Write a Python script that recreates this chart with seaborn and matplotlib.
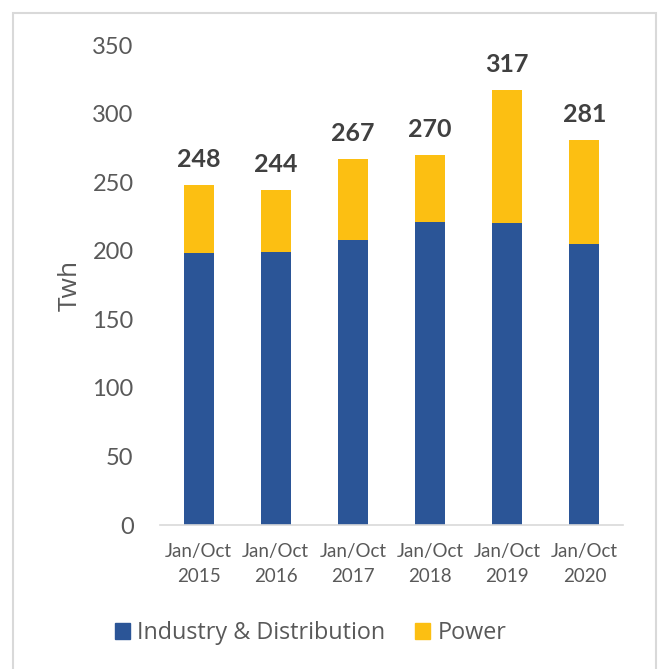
import matplotlib
matplotlib.use("Agg")
import matplotlib.pyplot as plt
import matplotlib.patches as mpatches
import seaborn as sns
import pandas as pd

# data
periods = ["Jan/Oct\n2015", "Jan/Oct\n2016", "Jan/Oct\n2017", "Jan/Oct\n2018", "Jan/Oct\n2019", "Jan/Oct\n2020"]
industry = [198, 199, 208, 221, 220, 205]
totals = [248, 244, 267, 270, 317, 281]
power = [t - i for t, i in zip(totals, industry)]

blue = "#2B5597"
gold = "#FCBF12"
grey = "#595959"

sns.set_theme(style="white")
plt.rcParams["font.family"] = ["Lato", "DejaVu Sans"]

df = pd.DataFrame({"period": periods, "industry": industry, "power": power, "total": totals})

fig = plt.figure(figsize=(6.59, 6.69), dpi=100)
ax = fig.add_axes([160 / 659, 1 - 525 / 669, 463 / 659, 480 / 669])

# stacked look: totals in gold, industry drawn over in blue
sns.barplot(data=df, x="period", y="total", color=gold, width=0.39, saturation=1, linewidth=0, ax=ax)
sns.barplot(data=df, x="period", y="industry", color=blue, width=0.39, saturation=1, linewidth=0, ax=ax)

ax.bar_label(ax.containers[0], labels=[str(t) for t in totals], padding=10,
             fontsize=18, fontweight="bold", color="#404040")

ax.set_ylim(0, 350)
ax.set_xlim(-0.5, 5.5)
ax.set_yticks(range(0, 351, 50))
ax.set_xlabel("")
ax.set_ylabel("Twh", fontsize=19, color=grey, family=["Open Sans", "DejaVu Sans"])
ax.yaxis.set_label_coords(-0.167, 0.5)

ax.tick_params(axis="y", length=0, pad=19, labelsize=17, labelcolor=grey)
ax.tick_params(axis="x", length=0, pad=13, labelsize=13.5, labelcolor=grey)
for lab in ax.get_xticklabels():
    lab.set_linespacing(1.55)

for s in ["top", "right", "left"]:
    ax.spines[s].set_visible(False)
ax.spines["bottom"].set_color("#D9D9D9")
ax.spines["bottom"].set_linewidth(1.2)

handles = [mpatches.Patch(color=blue, label="Industry & Distribution"),
           mpatches.Patch(color=gold, label="Power")]
fig.legend(handles=handles, loc="center", bbox_to_anchor=(310.5 / 659, 1 - 633 / 669),
           ncol=2, frameon=False, labelcolor=grey,
           prop={"family": ["Open Sans", "DejaVu Sans"], "size": 16.8},
           handlelength=0.65, handleheight=0.65, handletextpad=0.3, columnspacing=1.3)

# light frame around the whole chart
fig.patches.append(mpatches.Rectangle((13 / 659, -0.02), (656 - 13) / 659, (669 - 13) / 669 + 0.02,
                                      transform=fig.transFigure, fill=False,
                                      edgecolor="#D9D9D9", linewidth=1.5))

fig.savefig("out.png", dpi=100)
